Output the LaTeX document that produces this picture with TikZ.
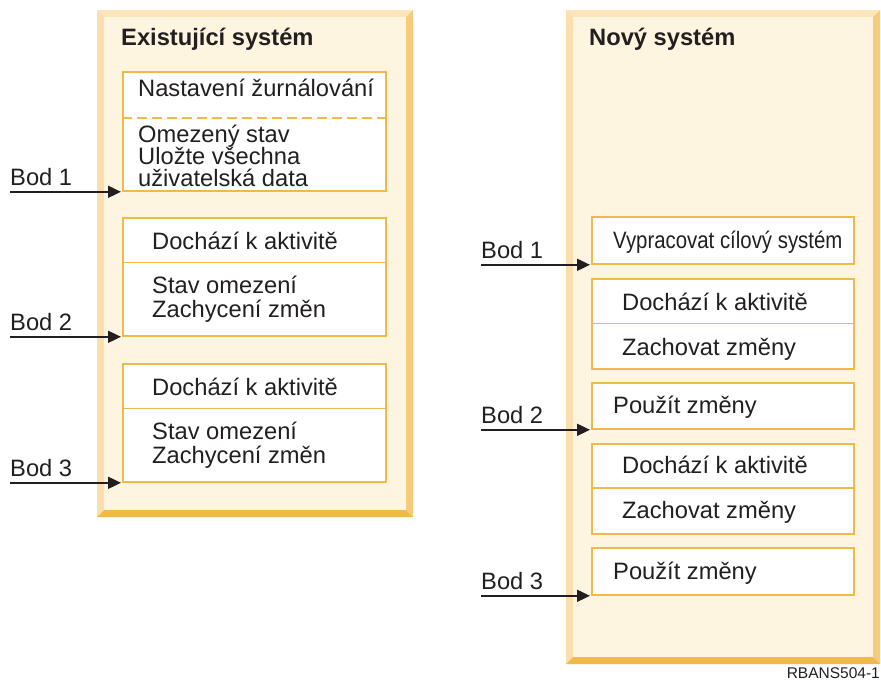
\documentclass[tikz,border=0pt]{standalone}
\usepackage{fontspec}
\setmainfont{Liberation Sans}
\usetikzlibrary{arrows.meta,positioning}

\definecolor{frameface}{HTML}{FEF5E1}
\definecolor{frametop}{HTML}{FCE5B9}
\definecolor{frameleft}{HTML}{FADFAD}
\definecolor{frameright}{HTML}{F6CB7C}
\definecolor{framebottom}{HTML}{F0B94B}
\definecolor{cellline}{HTML}{F0B94A}
\definecolor{inktext}{HTML}{231F20}

\newcommand{\steptextfont}{\fontsize{23.7}{24}\selectfont}
\newcommand{\sysheadfont}{\fontsize{23.7}{24}\selectfont\bfseries}

\tikzstyle{stepbox} = [draw=cellline, line width=1.8pt, fill=white, anchor=north west, inner sep=0pt]
\tikzstyle{steprule} = [draw=cellline, line width=1.8pt]
\tikzstyle{steptext} = [anchor=base west, inner sep=0pt, text=inktext, font=\steptextfont]
\tikzstyle{syshead} = [anchor=base west, inner sep=0pt, text=inktext, font=\sysheadfont]
\tikzstyle{bodlink} = [draw=inktext, line width=1.9pt, shorten >=1pt, -{Triangle[length=13pt,width=12pt]}]

\newcommand{\sysframe}[4]{% #1,#2: top left corner; #3,#4: bottom right corner
  \fill[frametop] (#1,#2) -- (#3,#2) -- (#3-7,#2+7) -- (#1+7,#2+7) -- cycle;
  \fill[frameleft] (#1,#2) -- (#1+7,#2+7) -- (#1+7,#4-7) -- (#1,#4) -- cycle;
  \fill[frameright] (#3,#2) -- (#3,#4) -- (#3-7,#4-7) -- (#3-7,#2+7) -- cycle;
  \fill[framebottom] (#1,#4) -- (#3,#4) -- (#3-7,#4-7) -- (#1+7,#4-7) -- cycle;
  \fill[frameface] (#1+7,#2+7) rectangle (#3-7,#4-7);
}
\newcommand{\bodarrow}[4]{% #1: name; #2: x of the tail; #3: box it points at; #4: label
  \coordinate (#1) at (#3.south west -| #2,0);
  \draw[bodlink] (#1) -- (#3.south west);
  \node[steptext] (#1-lbl) at ([yshift=6pt]#1) {#4};
}

\begin{document}
\begin{tikzpicture}[x=1pt, y=-1pt]
  \useasboundingbox (0,0) rectangle (881,680);
  % two system frames
  \sysframe{97}{10}{413}{517}
  \sysframe{566}{10}{880}{664}
  \node[syshead] (oldsys) at (121,45) {Existující systém};
  \node[syshead] (newsys) at (589,45) {Nový systém};

  % existing system
  \node[stepbox, minimum width=263pt, minimum height=119pt] (ex1) at (122,71) {};
  \draw[steprule, dash pattern=on 10pt off 5pt] (ex1.west |- 0,118) -- (ex1.east |- 0,118);
  \node[steptext] (ex1-a) at (138,96.5) {Nastavení žurnálování};
  \node[steptext] (ex1-b) at (138,142.5) {Omezený stav};
  \node[steptext] (ex1-c) at (138,164.5) {Uložte všechna};
  \node[steptext] (ex1-d) at (138,186.5) {uživatelská data};

  \node[stepbox, minimum width=263pt, minimum height=118pt] (ex2) at (122,217) {};
  \draw[steprule] (ex2.west |- 0,262.5) -- (ex2.east |- 0,262.5);
  \node[steptext] (ex2-a) at (152,249.3) {Dochází k aktivitě};
  \node[steptext] (ex2-b) at (152,293.3) {Stav omezení};
  \node[steptext] (ex2-c) at (152,317.3) {Zachycení změn};

  \node[stepbox, minimum width=263pt, minimum height=118pt] (ex3) at (122,363) {};
  \draw[steprule] (ex3.west |- 0,408.5) -- (ex3.east |- 0,408.5);
  \node[steptext] (ex3-a) at (152,395.3) {Dochází k aktivitě};
  \node[steptext] (ex3-b) at (152,439.3) {Stav omezení};
  \node[steptext] (ex3-c) at (152,463.3) {Zachycení změn};

  % new system
  \node[stepbox, minimum width=262pt, minimum height=47pt] (nw1) at (591,216) {};
  \node[steptext] (nw1-a) at (613,248.3) {\scalebox{0.86}[1]{Vypracovat cílový systém}};

  \node[stepbox, minimum width=262pt, minimum height=90pt] (nw2) at (591,278) {};
  \draw[steprule] (nw2.west |- 0,323.5) -- (nw2.east |- 0,323.5);
  \node[steptext] (nw2-a) at (622,310) {Dochází k aktivitě};
  \node[steptext] (nw2-b) at (622,355) {Zachovat změny};

  \node[stepbox, minimum width=262pt, minimum height=46pt] (nw3) at (591,382) {};
  \node[steptext] (nw3-a) at (613,413.3) {Použít změny};

  \node[stepbox, minimum width=262pt, minimum height=90pt] (nw4) at (591,443) {};
  \draw[steprule] (nw4.west |- 0,488) -- (nw4.east |- 0,488);
  \node[steptext] (nw4-a) at (622,473.3) {Dochází k aktivitě};
  \node[steptext] (nw4-b) at (622,518.3) {Zachovat změny};

  \node[stepbox, minimum width=262pt, minimum height=47pt] (nw5) at (591,547) {};
  \node[steptext] (nw5-a) at (613,579.3) {Použít změny};

  % checkpoints
  \bodarrow{bodL1}{10}{ex1}{Bod 1}
  \bodarrow{bodL2}{10}{ex2}{Bod 2}
  \bodarrow{bodL3}{10}{ex3}{Bod 3}
  \bodarrow{bodR1}{481}{nw1}{Bod 1}
  \bodarrow{bodR2}{481}{nw3}{Bod 2}
  \bodarrow{bodR3}{481}{nw5}{Bod 3}

  \node[anchor=base east, inner sep=0pt, text=inktext, font=\fontsize{15.5}{16}\selectfont] (figid) at (880,678) {RBANS504-1};
\end{tikzpicture}
\end{document}
